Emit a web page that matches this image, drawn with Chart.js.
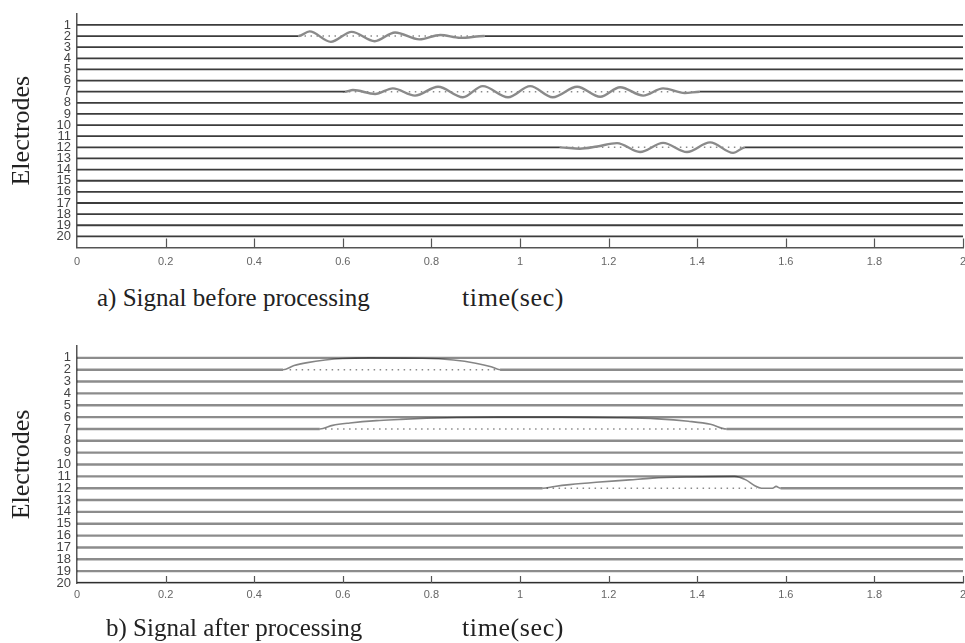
<!DOCTYPE html>
<html>
<head>
<meta charset="utf-8">
<title>Electrodes</title>
<script src="https://cdn.jsdelivr.net/npm/chart.js@4.4.1/dist/chart.umd.min.js"></script>
<style>
  body { margin: 0; background: #fff; overflow: hidden; width: 965px; height: 643px; position: relative; }
  canvas { position: absolute; left: 0; }
  .cap { position: absolute; font-family: 'Liberation Serif', serif; font-size: 25px; color: #222; white-space: nowrap; line-height: 1; }
  .unit { font-size: 26px; letter-spacing: 0.6px; }
</style>
</head>
<body>
<canvas id="before" width="965" height="280" style="top:0"></canvas>
<canvas id="after" width="965" height="285" style="top:330px"></canvas>
<div class="cap" style="left:97px; top:285px">a) Signal before processing</div>
<div class="cap unit" style="left:462px; top:285px">time(sec)</div>
<div class="cap" style="left:106px; top:615px">b) Signal after processing</div>
<div class="cap unit" style="left:462px; top:615px">time(sec)</div>
<script>
// electrodes and time axis
const electrodes = [1, 2, 3, 4, 5, 6, 7, 8, 9, 10, 11, 12, 13, 14, 15, 16, 17, 18, 19, 20]
const timeTicks = [0, 0.2, 0.4, 0.6, 0.8, 1, 1.2, 1.4, 1.6, 1.8, 2]

// raw signal: bursts on electrodes 2, 7, 12 (time in sec, deflection in electrode spacing, up = +)
const burstRows = [2, 7, 12]
const raw2T = [0.50, 0.525, 0.573, 0.62, 0.672, 0.718, 0.773, 0.82, 0.865, 0.92]
const raw2V = [0, 0.42, -0.52, 0.38, -0.46, 0.32, -0.3, 0.1, -0.16, 0]
const raw7T = [0.605, 0.623, 0.673, 0.713, 0.763, 0.815, 0.871, 0.916, 0.973, 1.023, 1.074, 1.129, 1.181, 1.226, 1.278, 1.323, 1.372, 1.406]
const raw7V = [0, 0.15, -0.2, 0.3, -0.35, 0.45, -0.5, 0.5, -0.5, 0.5, -0.5, 0.45, -0.45, 0.4, -0.35, 0.3, -0.12, 0]
const raw12T = [1.09, 1.135, 1.174, 1.219, 1.271, 1.323, 1.377, 1.429, 1.481, 1.508]
const raw12V = [0, -0.12, 0.08, 0.38, -0.42, 0.4, -0.42, 0.45, -0.5, 0]

// processed signal: envelopes on the same electrodes
const proc2T = [0.465, 0.49, 0.52, 0.56, 0.6, 0.66, 0.78, 0.85, 0.9, 0.935, 0.955]
const proc2V = [0, 0.35, 0.6, 0.82, 0.95, 1.0, 0.97, 0.82, 0.55, 0.25, 0]
const proc7T = [0.548, 0.577, 0.616, 0.676, 0.728, 0.789, 0.857, 0.95, 1.09, 1.22, 1.31, 1.38, 1.43, 1.466]
const proc7V = [0, 0.3, 0.5, 0.7, 0.8, 0.9, 0.97, 1.0, 1.0, 0.95, 0.85, 0.65, 0.4, 0]
const proc12T = [1.051, 1.078, 1.112, 1.172, 1.247, 1.299, 1.382, 1.484, 1.51, 1.53, 1.545, 1.57, 1.578, 1.588]
const proc12V = [0, 0.15, 0.3, 0.5, 0.7, 0.85, 0.95, 1.0, 0.7, 0.2, 0, 0, 0.15, 0]

// dotted reference lines under each burst
const rawDotStart = [0.5, 0.6, 1.09]
const rawDotEnd = [0.92, 1.4, 1.5]
const procDotStart = [0.48, 0.56, 1.06]
const procDotEnd = [0.945, 1.455, 1.535]

const rawBursts = {2: [raw2T, raw2V], 7: [raw7T, raw7V], 12: [raw12T, raw12V]}
const procBursts = {2: [proc2T, proc2V], 7: [proc7T, proc7V], 12: [proc12T, proc12V]}

function rowTrace(row, burst) {
    const pts = [{x: 0, y: row}]
    if (burst) {
        burst[0].forEach((t, i) => pts.push({x: t, y: row - burst[1][i]}))
    }
    pts.push({x: 2, y: row})
    return pts
}

// one trace per electrode, the burst part gets its own colour / width
function buildDatasets(bursts, dotStart, dotEnd, st) {
    const sets = electrodes.map(row => {
        const b = bursts[row]
        const t0 = b ? b[0][0] : 9
        const t1 = b ? b[0][b[0].length - 1] : 9
        const inBurst = ctx => ctx.p0.parsed.x >= t0 && ctx.p1.parsed.x <= t1
        return {
            data: rowTrace(row, b),
            borderColor: st.base,
            borderWidth: st.width,
            cubicInterpolationMode: 'monotone',
            segment: {
                borderColor: ctx => inBurst(ctx) ? st.wave : undefined,
                borderWidth: ctx => inBurst(ctx) ? st.waveWidth : undefined
            }
        }
    })
    burstRows.forEach((row, i) => {
        sets.push({
            data: [{x: dotStart[i], y: row}, {x: dotEnd[i], y: row}],
            borderColor: '#8a8a8a',
            borderWidth: 1.5,
            borderDash: [1.5, 4.5]
        })
    })
    return sets
}

// little tick marks pointing up into the plot
const innerTicks = {
    id: 'innerTicks',
    afterDatasetsDraw(chart, args, opts) {
        const {ctx, chartArea, scales: {x}} = chart
        ctx.save()
        ctx.strokeStyle = '#555'
        ctx.lineWidth = 1.2
        x.ticks.forEach(t => {
            if (t.value <= 0) return
            const px = Math.round(x.getPixelForValue(t.value)) + 0.5
            ctx.beginPath()
            ctx.moveTo(px, chartArea.bottom)
            ctx.lineTo(px, chartArea.bottom - opts.length)
            ctx.stroke()
        })
        ctx.restore()
    }
}

function makeConfig(datasets, yMax, padTop, xHeight, tickLen, labelPad) {
    return {
        type: 'line',
        data: {datasets: datasets},
        plugins: [innerTicks],
        options: {
            responsive: false,
            animation: false,
            devicePixelRatio: 1,
            layout: {padding: {top: padTop, left: 0, right: 2, bottom: 0}},
            elements: {point: {radius: 0}},
            plugins: {
                legend: {display: false},
                tooltip: {enabled: false},
                innerTicks: {length: tickLen}
            },
            scales: {
                x: {
                    type: 'linear',
                    min: 0,
                    max: 2,
                    grid: {display: false, drawTicks: false},
                    border: {display: true, color: '#555', width: 1.5},
                    afterBuildTicks: s => { s.ticks = timeTicks.map(v => ({value: v})) },
                    afterFit: s => { s.height = xHeight; s.paddingRight = 0; s.paddingLeft = 0 },
                    ticks: {
                        padding: labelPad,
                        color: '#666',
                        font: {family: 'Liberation Sans', size: 11},
                        maxRotation: 0,
                        callback: v => String(v)
                    }
                },
                y: {
                    type: 'linear',
                    min: 0,
                    max: yMax,
                    reverse: true,
                    grid: {display: false, drawTicks: false},
                    border: {display: true, color: '#555', width: 1.5},
                    afterBuildTicks: s => { s.ticks = electrodes.map(v => ({value: v})) },
                    afterFit: s => { s.width = 77 },
                    ticks: {
                        padding: 6,
                        color: '#444',
                        font: {family: 'Liberation Sans', size: 13},
                        autoSkip: false,
                        callback: v => String(v)
                    },
                    title: {
                        display: true,
                        text: 'Electrodes',
                        color: '#222',
                        font: {family: 'Liberation Serif', size: 26},
                        padding: {top: 7, bottom: 0}
                    }
                }
            }
        }
    }
}

const beforeChart = new Chart(
    document.getElementById('before'),
    makeConfig(buildDatasets(rawBursts, rawDotStart, rawDotEnd,
        {base: '#3c3c3c', width: 1.8, wave: '#8a8a8a', waveWidth: 2.4}), 21, 11, 32.5, 9, 8)
)

const afterChart = new Chart(
    document.getElementById('after'),
    makeConfig(buildDatasets(procBursts, procDotStart, procDotEnd,
        {base: 'rgba(0,0,0,0.45)', width: 2.4, wave: 'rgba(0,0,0,0.48)', waveWidth: 1.6}), 20, 16, 32, 7, 5)
)
</script>
</body>
</html>
